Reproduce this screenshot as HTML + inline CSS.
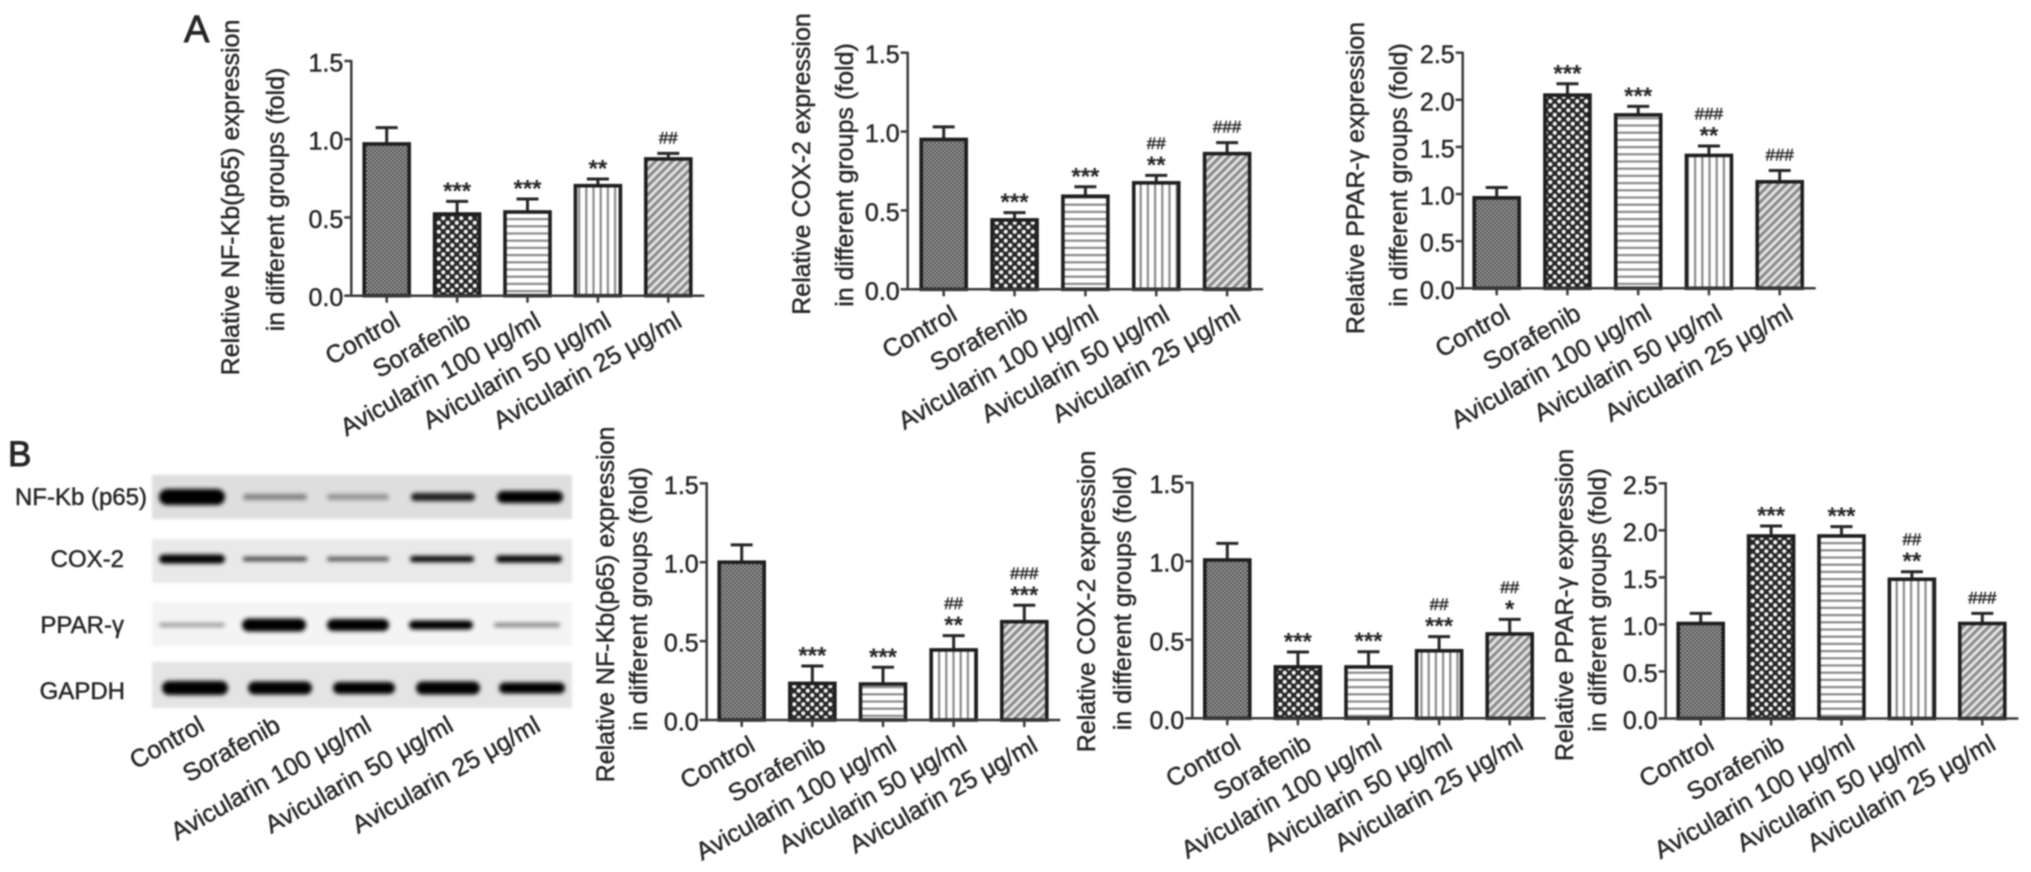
<!DOCTYPE html>
<html lang="en">
<head>
<meta charset="utf-8">
<title>Avicularin expression charts</title>
<style>
html,body{margin:0;padding:0;background:#fff;width:2031px;height:872px;overflow:hidden}
svg{display:block;filter:blur(0.7px);font-family:"Liberation Sans",sans-serif}
text{fill:#262626}
.t{font-size:25px;stroke:#262626;stroke-width:.45px}
</style>
</head>
<body>
<svg id="figure" width="2031" height="872" viewBox="0 0 2031 872" xmlns="http://www.w3.org/2000/svg">
<defs>
<pattern id="pat-dense" patternUnits="userSpaceOnUse" width="4" height="4"><rect width="4" height="4" fill="#9c9c9c"/><rect width="2" height="2" fill="#505050"/><rect x="2" y="2" width="2" height="2" fill="#505050"/></pattern>
<pattern id="pat-dots" patternUnits="userSpaceOnUse" width="9" height="9"><rect width="9" height="9" fill="#262626"/><circle cx="2.25" cy="2.25" r="2.1" fill="#f2f2f2"/><circle cx="6.75" cy="6.75" r="2.1" fill="#f2f2f2"/></pattern>
<pattern id="pat-h" patternUnits="userSpaceOnUse" width="7" height="7.2"><rect width="7" height="7.2" fill="#fff"/><rect y="2" width="7" height="2.2" fill="#8a8a8a"/></pattern>
<pattern id="pat-v" patternUnits="userSpaceOnUse" width="7.2" height="7"><rect width="7.2" height="7" fill="#fff"/><rect x="2" width="2.2" height="7" fill="#8a8a8a"/></pattern>
<pattern id="pat-diag" patternUnits="userSpaceOnUse" width="6" height="6" patternTransform="rotate(-45)"><rect width="6" height="6" fill="#e4e4e4"/><rect y="0" width="6" height="3.1" fill="#8c8c8c"/></pattern>
<filter id="band-blur" x="-30%" y="-120%" width="160%" height="340%"><feGaussianBlur stdDeviation="2"/></filter>
<filter id="strip-blur" x="-2%" y="-10%" width="104%" height="120%"><feGaussianBlur stdDeviation="1.2"/></filter>
</defs>
<rect width="2031" height="872" fill="#fff"/>

<text x="184" y="42" font-size="38" stroke="#262626" stroke-width=".9">A</text>
<text x="8" y="466" font-size="35" stroke="#262626" stroke-width="1">B</text>

<g id="blot"></g>
<text class="t" x="147" y="505" text-anchor="end" style="font-size:24px">NF-Kb (p65)</text>
<text class="t" x="124" y="567" text-anchor="end" style="font-size:24px">COX-2</text>
<text class="t" x="124" y="633" text-anchor="end" style="font-size:24px">PPAR-γ</text>
<text class="t" x="125" y="699" text-anchor="end" style="font-size:24px">GAPDH</text>

<g id="chart-a1">
<text class="t" transform="translate(239,197.5) rotate(-90)" text-anchor="middle">Relative NF-Kb(p65) expression</text>
<text class="t" transform="translate(284,199.5) rotate(-90)" text-anchor="middle">in different groups (fold)</text>
</g>
<g id="chart-a2">
<text class="t" transform="translate(810,164) rotate(-90)" text-anchor="middle">Relative COX-2 expression</text>
<text class="t" transform="translate(853,175) rotate(-90)" text-anchor="middle">in different groups (fold)</text>
</g>
<g id="chart-a3">
<text class="t" transform="translate(1364,178) rotate(-90)" text-anchor="middle">Relative PPAR-γ expression</text>
<text class="t" transform="translate(1407,175) rotate(-90)" text-anchor="middle">in different groups (fold)</text>
</g>
<g id="chart-b1">
<text class="t" transform="translate(614,604.5) rotate(-90)" text-anchor="middle">Relative NF-Kb(p65) expression</text>
<text class="t" transform="translate(647,599) rotate(-90)" text-anchor="middle">in different groups (fold)</text>
</g>
<g id="chart-b2">
<text class="t" transform="translate(1095,601.5) rotate(-90)" text-anchor="middle">Relative COX-2 expression</text>
<text class="t" transform="translate(1131,598.5) rotate(-90)" text-anchor="middle">in different groups (fold)</text>
</g>
<g id="chart-b3">
<text class="t" transform="translate(1573,605) rotate(-90)" text-anchor="middle">Relative PPAR-γ expression</text>
<text class="t" transform="translate(1606,600) rotate(-90)" text-anchor="middle">in different groups (fold)</text>
</g>
</svg>
<script>
const categories = ['Control', 'Sorafenib', 'Avicularin 100 μg/ml', 'Avicularin 50 μg/ml', 'Avicularin 25 μg/ml'];
const ticksFold15 = ['0.0', '0.5', '1.0', '1.5'];
const ticksFold25 = ['0.0', '0.5', '1.0', '1.5', '2.0', '2.5'];

const a1Values = [0.97, 0.522, 0.535, 0.703, 0.874];
const a1ErrorTops = [1.074, 0.603, 0.618, 0.746, 0.91];
const a1Marks = ['', '***', '***', '**', '##'];

const a2Values = [0.95, 0.44, 0.59, 0.675, 0.86];
const a2ErrorTops = [1.03, 0.486, 0.65, 0.722, 0.93];
const a2Marks = ['', '***', '***', '##|**', '###'];

const a3Values = [0.96, 2.05, 1.84, 1.41, 1.13];
const a3ErrorTops = [1.07, 2.17, 1.93, 1.51, 1.25];
const a3Marks = ['', '***', '***', '###|**', '###'];

const b1Values = [1.0, 0.232, 0.228, 0.444, 0.623];
const b1ErrorTops = [1.11, 0.342, 0.334, 0.535, 0.727];
const b1Marks = ['', '***', '***', '##|**', '###|***'];

const b2Values = [1.008, 0.327, 0.327, 0.43, 0.537];
const b2ErrorTops = [1.114, 0.422, 0.424, 0.52, 0.63];
const b2Marks = ['', '***', '***', '##|***', '##|*'];

const b3Values = [1.01, 1.94, 1.94, 1.48, 1.01];
const b3ErrorTops = [1.117, 2.046, 2.04, 1.56, 1.117];
const b3Marks = ['', '***', '***', '##|**', '###'];

const blotProteins = ['NF-Kb (p65)', 'COX-2', 'PPAR-γ', 'GAPDH'];
const blotDarkness = [
  [1, 0.42, 0.34, 0.88, 1],
  [1, 0.8, 0.7, 1, 1],
  [0.38, 1, 1, 1, 0.5],
  [1, 1, 1, 1, 1]
];
const blotThickness = [
  [16, 6, 6, 8, 12],
  [9, 4, 4, 6, 7],
  [4, 13, 12, 9, 4],
  [14, 13, 12, 13, 11]
];

const NS = 'http://www.w3.org/2000/svg';
const fills = ['url(#pat-dense)', 'url(#pat-dots)', 'url(#pat-h)', 'url(#pat-v)', 'url(#pat-diag)'];
const INK = '#262626';

function make(tag, attrs, parent) {
  const node = document.createElementNS(NS, tag);
  for (const key in attrs) node.setAttribute(key, attrs[key]);
  parent.appendChild(node);
  return node;
}

function drawCategoryLabel(parent, i, endX, endY) {
  const label = make('text', {
    transform: 'translate(' + endX + ',' + endY + ') rotate(-29.5)',
    'text-anchor': 'end',
    class: 't'
  }, parent);
  
  
  label.textContent = categories[i];
}

function drawChart(id, box, ticks, values, errorTops, marks) {
  const g = document.getElementById(id);
  const maxTick = parseFloat(ticks[ticks.length - 1]);
  const yScale = function (v) { return box.y0 - (v / maxTick) * (box.y0 - box.yTop); };
  const xScale = function (i) { return box.first + box.step * i; };

  values.forEach(function (value, i) {
    const cx = xScale(i);
    const yTop = yScale(errorTops[i]);
    const yBar = yScale(value);

    const stem = make('line', { x1: cx, x2: cx, y1: yBar, y2: yTop, stroke: INK, 'stroke-width': 3 }, g);
    
    

    const cap = make('line', { x1: cx - 11, x2: cx + 11, y1: yTop, y2: yTop, stroke: INK, 'stroke-width': 3 }, g);
    
    

    const bar = make('rect', {
      x: cx - 22.5, y: yBar, width: 45, height: box.y0 - yBar,
      fill: fills[i], stroke: '#1e1e1e', 'stroke-width': 3.6
    }, g);
    
    

    const lines = marks[i] ? marks[i].split('|').reverse() : [];
    lines.forEach(function (line, row) {
      const centre = yTop - 16 - row * 16.5;
      const isStar = line.charAt(0) === '*';
      const mark = make('text', {
        x: cx,
        y: centre + (isStar ? 13.5 : 6),
        'text-anchor': 'middle',
        'font-size': isStar ? 24 : 17,
        'font-weight': isStar ? 'bold' : 'normal',
        stroke: '#262626',
        'stroke-width': isStar ? 0 : 0.5
      }, g);
      
      
      mark.textContent = line;
    });

    const tick = make('line', { x1: cx, x2: cx, y1: box.y0, y2: box.y0 + 7, stroke: '#3a3a3a', 'stroke-width': 2.5 }, g);
    
    

    drawCategoryLabel(g, i, cx + 15, box.y0 + 30);
  });

  const yAxis = make('line', { x1: box.ax, x2: box.ax, y1: box.yTop - 1, y2: box.y0, stroke: '#3a3a3a', 'stroke-width': 2.5 }, g);
  
  

  const xAxis = make('line', { x1: box.ax - 7, x2: xScale(values.length - 1) + 36, y1: box.y0, y2: box.y0, stroke: '#3a3a3a', 'stroke-width': 2.5 }, g);
  
  

  ticks.forEach(function (tickLabel) {
    const y = yScale(parseFloat(tickLabel));
    const mark = make('line', { x1: box.ax - 7, x2: box.ax, y1: y, y2: y, stroke: '#3a3a3a', 'stroke-width': 2.5 }, g);
    
    

    const text = make('text', { x: box.ax - 8, y: y + 10.5, 'text-anchor': 'end', class: 't' }, g);
    
    
    text.textContent = tickLabel;
  });
}

function drawBlot() {
  const g = document.getElementById('blot');
  const rowBox = [
    { top: 475, h: 44, cy: 497, shade: '#dedede', laneX: [192, 275, 358, 443, 530] },
    { top: 539, h: 44, cy: 559, shade: '#e9e9e9', laneX: [192, 275, 358, 442, 529] },
    { top: 602, h: 44, cy: 625, shade: '#f4f4f4', laneX: [192, 274, 358, 441, 527] },
    { top: 662, h: 46, cy: 688, shade: '#e4e4e4', laneX: [195, 280, 364, 448, 532] }
  ];
  const laneW = [66, 64, 62, 64, 66];
  const labelEnds = [206, 282, 373, 455, 542];

  blotProteins.forEach(function (protein, r) {
    const box = rowBox[r];
    const strip = make('rect', { x: 152, y: box.top, width: 420, height: box.h, fill: box.shade, filter: 'url(#strip-blur)' }, g);
    
    

    blotDarkness[r].forEach(function (dark, c) {
      const thick = blotThickness[r][c];
      const band = make('rect', {
        x: box.laneX[c] - laneW[c] / 2, y: box.cy - thick / 2,
        width: laneW[c], height: thick, rx: thick / 2,
        fill: '#000', opacity: dark, filter: 'url(#band-blur)'
      }, g);
      
      
    });
  });

  categories.forEach(function (name, i) {
    drawCategoryLabel(g, i, labelEnds[i], 730);
  });
}

drawBlot();
drawChart('chart-a1', { ax: 351.3, yTop: 61, y0: 295.7, first: 386.7, step: 70.4 }, ticksFold15, a1Values, a1ErrorTops, a1Marks);
drawChart('chart-a2', { ax: 907.7, yTop: 52.7, y0: 289.3, first: 943.7, step: 70.85 }, ticksFold15, a2Values, a2ErrorTops, a2Marks);
drawChart('chart-a3', { ax: 1462.7, yTop: 52.7, y0: 288.3, first: 1496.7, step: 70.75 }, ticksFold25, a3Values, a3ErrorTops, a3Marks);
drawChart('chart-b1', { ax: 706.7, yTop: 483.3, y0: 720, first: 741.7, step: 70.65 }, ticksFold15, b1Values, b1ErrorTops, b1Marks);
drawChart('chart-b2', { ax: 1192.3, yTop: 482.7, y0: 718.3, first: 1227.3, step: 70.6 }, ticksFold15, b2Values, b2ErrorTops, b2Marks);
drawChart('chart-b3', { ax: 1665.7, yTop: 483.3, y0: 718.5, first: 1700.7, step: 70.4 }, ticksFold25, b3Values, b3ErrorTops, b3Marks);
</script>
</body>
</html>
